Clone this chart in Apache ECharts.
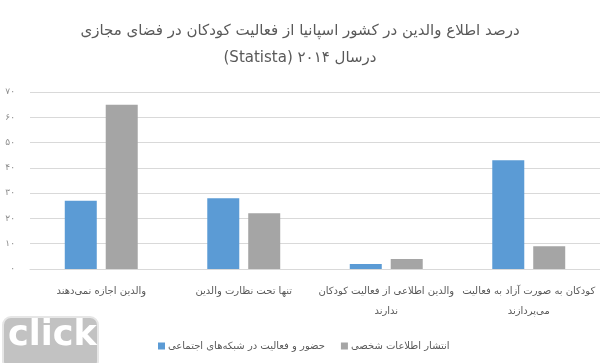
<!DOCTYPE html>
<html><head><meta charset="utf-8">
<script src="https://cdn.jsdelivr.net/npm/echarts@6/dist/echarts.min.js"></script>
<style>html,body{margin:0;padding:0;background:#fff}#c{width:600px;height:363px}</style>
</head><body><div id="c"></div>
<script>
const categories = [
  "والدین اجازه نمی‌دهند",
  "تنها تحت نظارت والدین",
  "والدین اطلاعی از فعالیت کودکان\nندارند",
  "کودکان به صورت آزاد به فعالیت\nمی‌پردازند"
];
const seriesNames = ["حضور و فعالیت در شبکه‌های اجتماعی", "انتشار اطلاعات شخصی"];
const socialActivity = [27, 28, 2, 43];
const personalInfo = [65, 22, 4, 9];
const yTickLabels = ["۰", "۱۰", "۲۰", "۳۰", "۴۰", "۵۰", "۶۰", "۷۰"];
// second line written so that an LTR canvas shows it as the RTL original: "درسال ۲۰۱۴ (Statista)"
const titleLines = ["درصد اطلاع والدین در کشور اسپانیا از فعالیت کودکان در فضای مجازی", "(Statista) درسال ۲۰۱۴"];

const chart = echarts.init(document.getElementById('c'), null, {renderer: 'canvas'});
const font = "'DejaVu Sans', 'Noto Sans', sans-serif";
chart.setOption({
  animation: false,
  textStyle: {fontFamily: font},
  title: {
    text: titleLines.join('\n'),
    left: 'center', top: 13,
    textStyle: {fontSize: 15, fontWeight: 'normal', color: '#595959', lineHeight: 27, fontFamily: font}
  },
  legend: {
    data: seriesNames,
    left: 153, top: 336,
    itemWidth: 7, itemHeight: 7, itemGap: 16,
    icon: 'rect',
    textStyle: {fontSize: 10, color: '#595959', padding: [0, 0, 0, -2]}
  },
  grid: {left: 30, top: 92, width: 576, height: 177, containLabel: false},
  xAxis: {
    type: 'category',
    data: categories,
    axisLine: {lineStyle: {color: '#d9d9d9'}},
    axisTick: {show: false},
    axisLabel: {interval: 0, fontSize: 10, color: '#595959', lineHeight: 20, margin: 12}
  },
  yAxis: {
    type: 'value', min: 0, max: 70, interval: 10,
    axisLine: {show: false}, axisTick: {show: false},
    splitLine: {lineStyle: {color: '#d9d9d9', width: 1}},
    axisLabel: {
      fontSize: 9, color: '#8c8c8c', margin: 15,
      formatter: v => yTickLabels[Math.round(v / 10)]
    }
  },
  series: [
    {name: seriesNames[0], type: 'bar', data: socialActivity, barWidth: 32, barGap: '28%',
     itemStyle: {color: '#5B9BD5'}},
    {name: seriesNames[1], type: 'bar', data: personalInfo, barWidth: 32,
     itemStyle: {color: '#A5A5A5'}}
  ],
  graphic: [
    {type: 'rect', left: 2, top: 316, shape: {width: 95, height: 52, r: 8},
     style: {fill: '#c2c2c2', stroke: '#e6e6e6', lineWidth: 2}},
    {type: 'text', left: 8, top: 318,
     style: {text: 'click', fill: '#ffffff', font: "bold 35px 'DejaVu Sans', sans-serif"}}
  ]
});
</script></body></html>
